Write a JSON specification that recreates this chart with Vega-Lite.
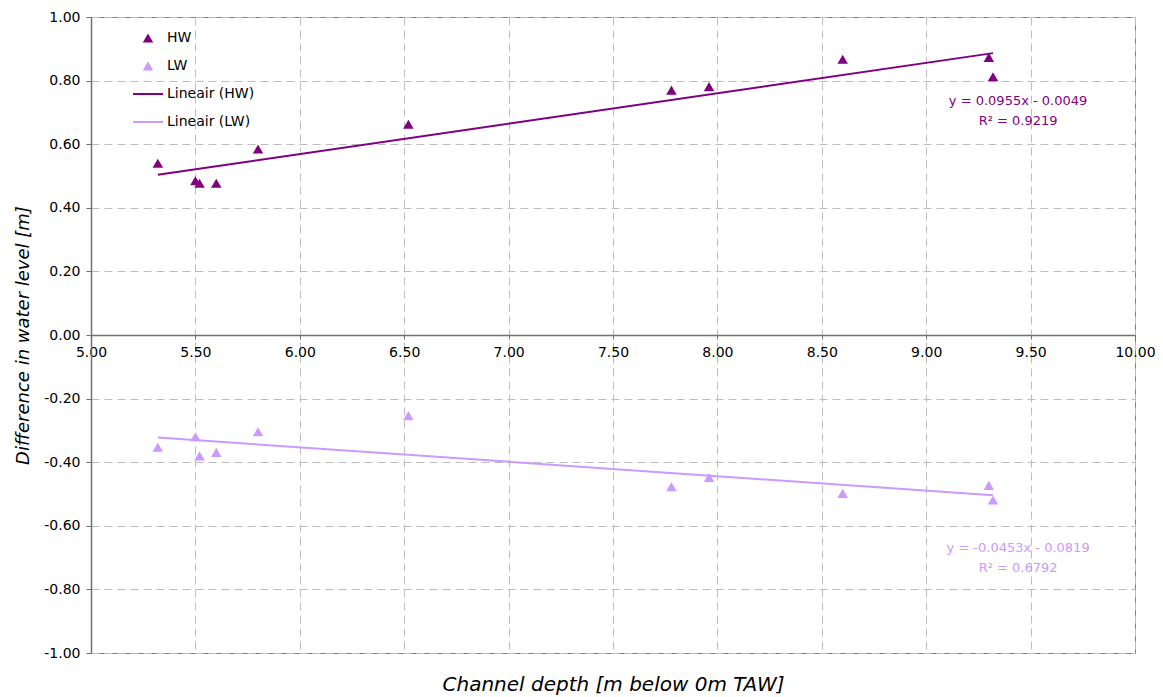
{
  "$schema": "https://vega.github.io/schema/vega-lite/v6.json",
  "autosize": {"type": "none"},
  "width": 1044,
  "height": 636,
  "padding": {"left": 91, "top": 17, "right": 28, "bottom": 44},
  "background": "white",
  "config": {
    "view": {"stroke": "#808080", "strokeWidth": 1},
    "font": "DejaVu Sans",
    "axis": {"labelFont": "DejaVu Sans", "titleFont": "DejaVu Sans", "labelColor": "#000", "titleColor": "#000"}
  },
  "datasets": {
    "pts": [
      {"series": "HW", "trend": "Lineair (HW)", "depth": 5.32, "diff": 0.540},
      {"series": "HW", "trend": "Lineair (HW)", "depth": 5.50, "diff": 0.485},
      {"series": "HW", "trend": "Lineair (HW)", "depth": 5.52, "diff": 0.477},
      {"series": "HW", "trend": "Lineair (HW)", "depth": 5.60, "diff": 0.477},
      {"series": "HW", "trend": "Lineair (HW)", "depth": 5.80, "diff": 0.585},
      {"series": "HW", "trend": "Lineair (HW)", "depth": 6.52, "diff": 0.663},
      {"series": "HW", "trend": "Lineair (HW)", "depth": 7.78, "diff": 0.770},
      {"series": "HW", "trend": "Lineair (HW)", "depth": 7.96, "diff": 0.781},
      {"series": "HW", "trend": "Lineair (HW)", "depth": 8.60, "diff": 0.867},
      {"series": "HW", "trend": "Lineair (HW)", "depth": 9.30, "diff": 0.873},
      {"series": "HW", "trend": "Lineair (HW)", "depth": 9.32, "diff": 0.812},
      {"series": "LW", "trend": "Lineair (LW)", "depth": 5.32, "diff": -0.353},
      {"series": "LW", "trend": "Lineair (LW)", "depth": 5.50, "diff": -0.320},
      {"series": "LW", "trend": "Lineair (LW)", "depth": 5.52, "diff": -0.380},
      {"series": "LW", "trend": "Lineair (LW)", "depth": 5.60, "diff": -0.369},
      {"series": "LW", "trend": "Lineair (LW)", "depth": 5.80, "diff": -0.304},
      {"series": "LW", "trend": "Lineair (LW)", "depth": 6.52, "diff": -0.254},
      {"series": "LW", "trend": "Lineair (LW)", "depth": 7.78, "diff": -0.477},
      {"series": "LW", "trend": "Lineair (LW)", "depth": 7.96, "diff": -0.448},
      {"series": "LW", "trend": "Lineair (LW)", "depth": 8.60, "diff": -0.498},
      {"series": "LW", "trend": "Lineair (LW)", "depth": 9.30, "diff": -0.473},
      {"series": "LW", "trend": "Lineair (LW)", "depth": 9.32, "diff": -0.519}
    ],
    "eq": [
      {"series": "HW", "label": "y = 0.0955x - 0.0049", "depth": 9.44, "diff": 0.736},
      {"series": "HW", "label": "R² = 0.9219", "depth": 9.44, "diff": 0.673},
      {"series": "LW", "label": "y = -0.0453x - 0.0819", "depth": 9.44, "diff": -0.670},
      {"series": "LW", "label": "R² = 0.6792", "depth": 9.44, "diff": -0.733}
    ]
  },
  "layer": [
    {
      "data": {"name": "pts"},
      "transform": [
        {"regression": "diff", "on": "depth", "groupby": ["trend"]}
      ],
      "mark": {"type": "line", "strokeWidth": 2},
      "encoding": {
        "x": {
          "field": "depth", "type": "quantitative",
          "scale": {"domain": [5, 10], "nice": false, "zero": false},
          "axis": {
            "values": [5, 5.5, 6, 6.5, 7, 7.5, 8, 8.5, 9, 9.5, 10],
            "format": ".2f",
            "offset": -318,
            "grid": true, "gridDash": [8, 5], "gridColor": "#bdbdbd", "gridWidth": 1,
            "domainColor": "#707070", "domainWidth": 1.5,
            "tickColor": "#707070", "tickSize": 4,
            "labelFontSize": 14, "labelPadding": 6, "labelFlush": false,
            "title": "Channel depth [m below 0m TAW]",
            "titleFontSize": 20, "titleFontStyle": "italic", "titleFontWeight": "normal",
            "titleY": 339
          }
        },
        "y": {
          "field": "diff", "type": "quantitative",
          "scale": {"domain": [-1, 1], "nice": false, "zero": false},
          "axis": {
            "values": [-1, -0.8, -0.6, -0.4, -0.2, 0, 0.2, 0.4, 0.6, 0.8, 1],
            "format": ".2f",
            "labelExpr": "replace(datum.label, '−', '-')",
            "grid": true, "gridDash": [8, 5], "gridColor": "#bdbdbd", "gridWidth": 1,
            "domainColor": "#707070", "domainWidth": 1.5,
            "tickColor": "#707070", "tickSize": 5,
            "labelFontSize": 14, "labelPadding": 6, "labelFlush": false,
            "title": "Difference in water level [m]",
            "titleFontSize": 18, "titleFontStyle": "italic", "titleFontWeight": "normal",
            "titlePadding": 11
          }
        },
        "color": {
          "field": "trend", "type": "nominal",
          "scale": {
            "domain": ["HW", "LW", "Lineair (HW)", "Lineair (LW)"],
            "range": ["#800080", "#CC99FF", "#800080", "#CC99FF"]
          },
          "legend": {
            "orient": "none", "legendX": 50, "legendY": 14,
            "title": null, "padding": 0, "rowPadding": 14,
            "labelFontSize": 14, "labelFont": "DejaVu Sans", "labelColor": "#000",
            "labelOffset": 12, "symbolSize": 900,
            "encode": {
              "symbols": {
                "update": {
                  "shape": {"signal": "(datum.value == 'HW' || datum.value == 'LW') ? 'triangle-up' : 'stroke'"},
                  "size": {"signal": "(datum.value == 'HW' || datum.value == 'LW') ? 110 : 900"},
                  "strokeWidth": {"signal": "(datum.value == 'HW' || datum.value == 'LW') ? 0 : 2"},
                  "fill": {"scale": "color", "field": "value"},
                  "stroke": {"scale": "color", "field": "value"},
                  "opacity": {"value": 1},
                  "fillOpacity": {"value": 1},
                  "strokeOpacity": {"value": 1}
                }
              }
            }
          }
        }
      }
    },
    {
      "data": {"name": "pts"},
      "mark": {"type": "point", "shape": "triangle-up", "filled": true, "size": 110, "opacity": 1},
      "encoding": {
        "x": {"field": "depth", "type": "quantitative"},
        "y": {"field": "diff", "type": "quantitative"},
        "color": {"field": "series", "type": "nominal"}
      }
    },
    {
      "data": {"name": "eq"},
      "mark": {"type": "text", "fontSize": 13, "font": "DejaVu Sans", "align": "center", "baseline": "middle"},
      "encoding": {
        "x": {"field": "depth", "type": "quantitative"},
        "y": {"field": "diff", "type": "quantitative"},
        "text": {"field": "label"},
        "color": {"field": "series", "type": "nominal"}
      }
    }
  ]
}
